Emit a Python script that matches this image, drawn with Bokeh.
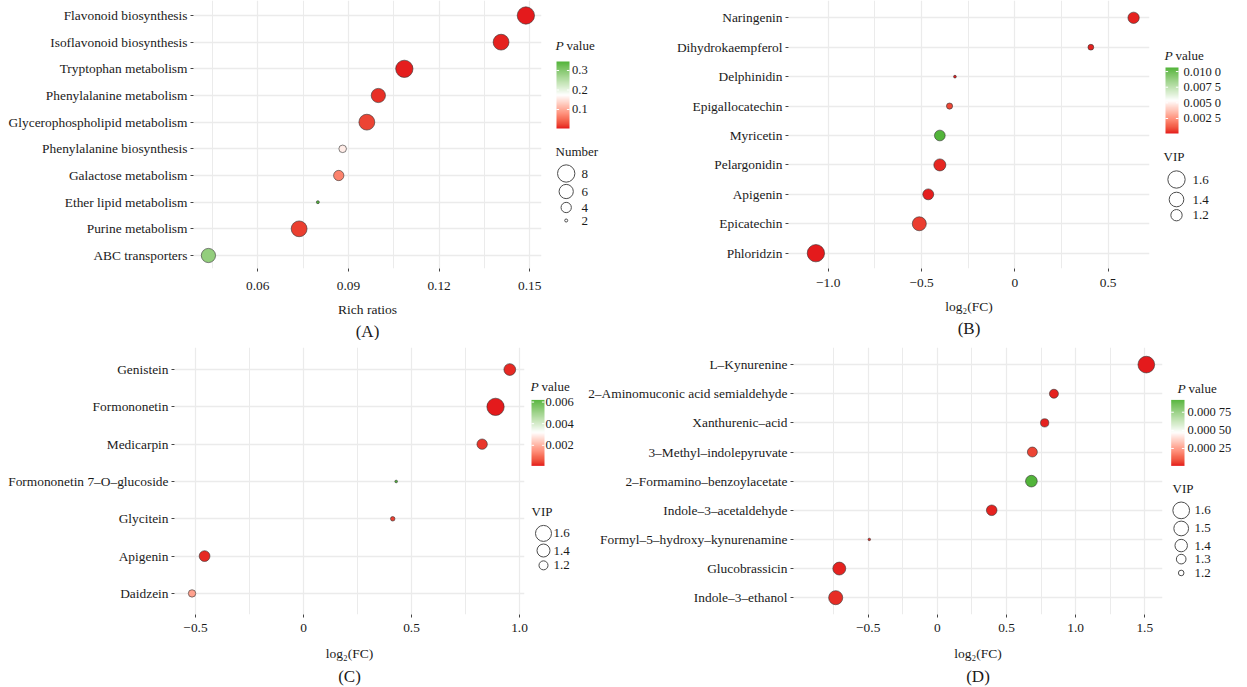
import numpy as np
from bokeh.plotting import figure
from bokeh.models import ColumnDataSource, Range1d, FixedTicker, LinearColorMapper, Title
from bokeh.layouts import row, column
from bokeh.transform import transform
from bokeh.core.properties import value
from bokeh.embed import file_html
from bokeh.resources import INLINE

# ------------------------------------------------------------------ data
# (A) KEGG enrichment
a_pathways = ["Flavonoid biosynthesis", "Isoflavonoid biosynthesis", "Tryptophan metabolism",
              "Phenylalanine metabolism", "Glycerophospholipid metabolism", "Phenylalanine biosynthesis",
              "Galactose metabolism", "Ether lipid metabolism", "Purine metabolism", "ABC transporters"]
a_rich_ratio = [0.1487, 0.1405, 0.1085, 0.0999, 0.0961, 0.0881, 0.0868, 0.0799, 0.0737, 0.0437]
a_number = [8, 7, 8, 6, 7, 3, 4, 2, 7, 6]
a_pvalue = [0.0026, 0.006, 0.004, 0.011, 0.022, 0.157, 0.068, 0.346, 0.020, 0.288]
a_x_ticks = [0.06, 0.09, 0.12, 0.15]
a_x_minor = [0.045, 0.075, 0.105, 0.135]
a_x_labels = ["0.06", "0.09", "0.12", "0.15"]
a_p_ticks = [0.1, 0.2, 0.3]
a_p_labels = ["0.1", "0.2", "0.3"]
a_size_breaks = [8, 6, 4, 2]

# (B) flavonoid metabolites
b_names = ["Naringenin", "Dihydrokaempferol", "Delphinidin", "Epigallocatechin", "Myricetin",
           "Pelargonidin", "Apigenin", "Epicatechin", "Phloridzin"]
b_log2fc = [0.636, 0.407, -0.321, -0.350, -0.402, -0.402, -0.464, -0.512, -1.066]
b_vip = [1.20, 0.98, 0.92, 0.99, 1.17, 1.24, 1.18, 1.36, 1.60]
b_pvalue = [0.0002, 0.0002, 0.0001, 0.00076, 0.01065, 0.00026, 0.00015, 0.00057, 0.0001]
b_x_ticks = [-1.0, -0.5, 0.0, 0.5]
b_x_minor = [-0.75, -0.25, 0.25]
b_x_labels = ["\u22121.0", "\u22120.5", "0", "0.5"]
b_p_ticks = [0.01, 0.0075, 0.005, 0.0025]
b_p_labels = ["0.010 0", "0.007 5", "0.005 0", "0.002 5"]
b_size_breaks = [1.6, 1.4, 1.2]

# (C) isoflavonoid metabolites
c_names = ["Genistein", "Formononetin", "Medicarpin", "Formononetin 7\u2013O\u2013glucoside",
           "Glycitein", "Apigenin", "Daidzein"]
c_log2fc = [0.955, 0.889, 0.827, 0.429, 0.413, -0.458, -0.516]
c_vip = [1.33, 1.70, 1.26, 1.03, 1.06, 1.28, 1.14]
c_pvalue = [0.0002, 0.0001, 0.0003, 0.0062, 0.0004, 0.0002, 0.0017]
c_x_ticks = [-0.5, 0.0, 0.5, 1.0]
c_x_minor = [-0.25, 0.25, 0.75]
c_x_labels = ["\u22120.5", "0", "0.5", "1.0"]
c_p_ticks = [0.006, 0.004, 0.002]
c_p_labels = ["0.006", "0.004", "0.002"]
c_size_breaks = [1.6, 1.4, 1.2]

# (D) tryptophan metabolites
d_names = ["L\u2013Kynurenine", "2\u2013Aminomuconic acid semialdehyde", "Xanthurenic\u2013acid",
           "3\u2013Methyl\u2013indolepyruvate", "2\u2013Formamino\u2013benzoylacetate",
           "Indole\u20133\u2013acetaldehyde", "Formyl\u20135\u2013hydroxy\u2013kynurenamine",
           "Glucobrassicin", "Indole\u20133\u2013ethanol"]
d_log2fc = [1.511, 0.843, 0.776, 0.687, 0.680, 0.393, -0.492, -0.709, -0.735]
d_vip = [1.60, 1.28, 1.26, 1.31, 1.37, 1.33, 1.16, 1.42, 1.47]
d_pvalue = [0.00001, 0.00002, 0.00002, 0.00006, 0.00092, 0.00002, 0.00003, 0.00002, 0.00003]
d_x_ticks = [-0.5, 0.0, 0.5, 1.0, 1.5]
d_x_minor = [-0.75, -0.25, 0.25, 0.75, 1.25]
d_x_labels = ["\u22120.5", "0", "0.5", "1.0", "1.5"]
d_p_ticks = [0.00075, 0.0005, 0.00025]
d_p_labels = ["0.000 75", "0.000 50", "0.000 25"]
d_size_breaks = [1.6, 1.5, 1.4, 1.3, 1.2]

# ------------------------------------------------------------------ style helpers
FONT = "Liberation Serif"
TXT = "#1a1a1a"
GRID = "#EBEBEB"


def _lin(c):
    return c / 12.92 if c <= 0.04045 else ((c + 0.055) / 1.055) ** 2.4


def hex_to_lab(h):
    r, g, b = [_lin(int(h[i:i + 2], 16) / 255) for i in (1, 3, 5)]
    X = (0.4124 * r + 0.3576 * g + 0.1805 * b) / 0.95047
    Y = 0.2126 * r + 0.7152 * g + 0.0722 * b
    Z = (0.0193 * r + 0.1192 * g + 0.9505 * b) / 1.08883
    f = lambda t: t ** (1 / 3) if t > (6 / 29) ** 3 else t / (3 * (6 / 29) ** 2) + 4 / 29
    fx, fy, fz = f(X), f(Y), f(Z)
    return (116 * fy - 16, 500 * (fx - fy), 200 * (fy - fz))


def lab_to_hex(L, a, b):
    fy = (L + 16) / 116
    fx = fy + a / 500
    fz = fy - b / 200
    finv = lambda t: t ** 3 if t > 6 / 29 else 3 * (6 / 29) ** 2 * (t - 4 / 29)
    X, Y, Z = 0.95047 * finv(fx), finv(fy), 1.08883 * finv(fz)
    r = 3.2406 * X - 1.5372 * Y - 0.4986 * Z
    g = -0.9689 * X + 1.8758 * Y + 0.0415 * Z
    bb = 0.0557 * X - 0.2040 * Y + 1.0570 * Z

    def gam(c):
        c = min(max(c, 0.0), 1.0)
        return 12.92 * c if c <= 0.0031308 else 1.055 * c ** (1 / 2.4) - 0.055
    return "#%02x%02x%02x" % tuple(int(round(gam(c) * 255)) for c in (r, g, bb))


def gradient2(low, mid, high, n=256):
    l0, l1, l2 = hex_to_lab(low), hex_to_lab(mid), hex_to_lab(high)
    out = []
    for i in range(n):
        t = i / (n - 1)
        if t <= 0.5:
            u = t / 0.5
            c = [l0[k] + (l1[k] - l0[k]) * u for k in range(3)]
        else:
            u = (t - 0.5) / 0.5
            c = [l1[k] + (l2[k] - l1[k]) * u for k in range(3)]
        out.append(lab_to_hex(*c))
    return out


PALETTE = gradient2("#E41A1C", "#FFFFFF", "#52B43A")


def size_number(n):
    return float(np.sqrt(9 + (n - 2) * 48.5))


def size_vip(k, v0):
    return lambda v: float(np.sqrt(max(4.0, k * (v - v0))))


size_b = size_vip(430, 0.902)
size_c = size_vip(437, 1.014)
size_d = size_vip(620, 1.15)


def make_main(names, xvals, pvals, sizes, mapper, xr, yr, w, h, mb, xticks, xminor, xlabels,
              xlabel, tag, lab_standoff, axis_standoff, title_standoff):
    n = len(names)
    ypos = list(range(n - 1, -1, -1))
    src = ColumnDataSource(dict(x=xvals, y=ypos, p=pvals, s=sizes))
    p = figure(width=w, height=h, x_range=Range1d(*xr), y_range=Range1d(*yr),
               output_backend="svg", toolbar_location=None,
               min_border_left=mb[0], min_border_right=mb[1], min_border_top=mb[2],
               min_border_bottom=mb[3], outline_line_color=None,
               background_fill_color="white", border_fill_color="white")
    p.scatter("x", "y", source=src, size="s", fill_color=transform("p", mapper),
              line_color="#333333", line_width=0.6)
    yt = FixedTicker(ticks=ypos)
    p.yaxis.ticker = yt
    p.ygrid.ticker = yt
    p.yaxis.major_label_overrides = {y: nm for y, nm in zip(ypos, names)}
    xt = FixedTicker(ticks=xticks, minor_ticks=xminor)
    p.xaxis.ticker = xt
    p.xgrid.ticker = xt
    p.xaxis.major_label_overrides = {t: l for t, l in zip(xticks, xlabels)}
    p.xgrid.grid_line_color = GRID
    p.xgrid.grid_line_width = 1.2
    p.xgrid.minor_grid_line_color = GRID
    p.xgrid.minor_grid_line_width = 1.0
    p.ygrid.grid_line_color = GRID
    p.ygrid.grid_line_width = 1.6
    for ax in (p.xaxis[0], p.yaxis[0]):
        ax.axis_line_color = None
        ax.major_tick_line_color = "#444444"
        ax.major_tick_line_width = 1
        ax.major_tick_out = 3
        ax.major_tick_in = 0
        ax.minor_tick_line_color = None
        ax.major_label_text_font = FONT
        ax.major_label_text_font_size = "13.4px"
        ax.major_label_text_color = TXT
    p.yaxis.major_label_standoff = 3
    p.xaxis.major_label_standoff = lab_standoff
    p.xaxis.axis_label = xlabel
    p.xaxis.axis_label_text_font = FONT
    p.xaxis.axis_label_text_font_size = "13.5px"
    p.xaxis.axis_label_text_font_style = "normal"
    p.xaxis.axis_label_text_color = TXT
    p.xaxis.axis_label_standoff = axis_standoff
    p.add_layout(Title(text=tag, align="center", text_font=FONT, text_font_size="17px",
                       text_font_style="normal", text_color=TXT, standoff=title_standoff), "below")
    return p


def make_legend(x0, y0, w, h, mt, mbot, mapper, p_xy, bar, p_ticks, p_labels, lab_x,
                s_title, s_xy, breaks, bsizes, c_x, c_ys, s_lab_x):
    # the frame of this figure is aligned with the frames of the row's main plots
    fh = h - mt - mbot
    lx = lambda wx: wx - x0
    ly = lambda wy: (y0 + mt + fh) - wy
    p = figure(width=w, height=h, x_range=Range1d(0, w), y_range=Range1d(0, fh),
               x_axis_type=None, y_axis_type=None, output_backend="svg",
               toolbar_location=None, min_border_left=0, min_border_right=0,
               min_border_top=mt, min_border_bottom=mbot, outline_line_color=None,
               background_fill_color="white", border_fill_color="white")
    common = dict(text_font=value(FONT), text_baseline="middle", text_align="left", text_color=TXT)
    # colour-bar title with italic P
    p.text(x=[lx(p_xy[0])], y=[ly(p_xy[1])], text=["P"], text_font_size="13.5px",
           text_font_style="italic", **common)
    p.text(x=[lx(p_xy[0]) + 11], y=[ly(p_xy[1])], text=["value"], text_font_size="13px", **common)
    # gradient bar
    bx0, bx1, by0, by1 = bar  # window: left, right, top, bottom
    lo, hi = mapper.low, mapper.high
    img = np.linspace(lo, hi, 256).reshape(256, 1)
    p.image(image=[img], x=lx(bx0), y=ly(by1), dw=bx1 - bx0, dh=by1 - by0, color_mapper=mapper)
    tick_y = [ly(by1 - (t - lo) / (hi - lo) * (by1 - by0)) for t in p_ticks]
    p.segment(x0=[lx(bx0)] * len(tick_y), x1=[lx(bx0) + 2.6] * len(tick_y), y0=tick_y, y1=tick_y,
              line_color="white", line_width=1)
    p.segment(x0=[lx(bx1) - 2.6] * len(tick_y), x1=[lx(bx1)] * len(tick_y), y0=tick_y, y1=tick_y,
              line_color="white", line_width=1)
    p.text(x=[lx(lab_x)] * len(tick_y), y=tick_y, text=p_labels, text_font_size="12.5px", **common)
    # size legend
    p.text(x=[lx(s_xy[0])], y=[ly(s_xy[1])], text=[s_title], text_font_size="13px", **common)
    p.scatter(x=[lx(c_x)] * len(breaks), y=[ly(v) for v in c_ys], size=bsizes,
              fill_color="white", line_color="#4d4d4d", line_width=1)
    p.text(x=[lx(s_lab_x)] * len(breaks), y=[ly(v) for v in c_ys],
           text=[("%g" % b) for b in breaks], text_font_size="13px", **common)
    return p


# ------------------------------------------------------------------ panel A
map_a = LinearColorMapper(palette=PALETTE, low=min(a_pvalue), high=max(a_pvalue))
pa = make_main(a_pathways, a_rich_ratio, a_pvalue, [size_number(n) for n in a_number], map_a,
               (0.03876, 0.15387), (-0.4875, 9.5625), 545, 340, (193, 4, 0, 72),
               a_x_ticks, a_x_minor, a_x_labels, "Rich ratios", "(A)", 9, 9, 0)
la = make_legend(545, 0, 95, 340, 0, 72, map_a, (555, 45), (556, 569, 61, 128), a_p_ticks, a_p_labels,
                 571.5, "Number", (555, 151), a_size_breaks, [size_number(n) for n in a_size_breaks],
                 565.7, [173, 191, 207, 220], 581)

# ------------------------------------------------------------------ panel B
map_b = LinearColorMapper(palette=PALETTE, low=min(b_pvalue), high=max(b_pvalue))
pb = make_main(b_names, b_log2fc, b_pvalue, [size_b(v) for v in b_vip], map_b,
               (-1.2127, 0.7212), (-0.52, 8.588), 512, 340, (148, 3, 0, 72),
               b_x_ticks, b_x_minor, b_x_labels, "log\u2082(FC)", "(B)", 6, 9, 0)
lb = make_legend(1152, 0, 95, 340, 0, 72, map_b, (1164, 55), (1165, 1178, 67, 133), b_p_ticks, b_p_labels,
                 1183, "VIP", (1163, 156), b_size_breaks, [size_b(v) for v in b_size_breaks],
                 1176, [179, 199, 214.7], 1192)

# ------------------------------------------------------------------ panel C
map_c = LinearColorMapper(palette=PALETTE, low=min(c_pvalue), high=max(c_pvalue))
pc = make_main(c_names, c_log2fc, c_pvalue, [size_c(v) for v in c_vip], map_c,
               (-0.5972, 1.0231), (-0.565, 6.591), 530, 347, (174, 6, 7, 70),
               c_x_ticks, c_x_minor, c_x_labels, "log\u2082(FC)", "(C)", 5, 11, 3)
lc = make_legend(530, 340, 55, 347, 7, 70, map_c, (530, 386.7), (531, 544, 400, 466.7), c_p_ticks,
                 c_p_labels, 545, "VIP", (531, 513), c_size_breaks, [size_c(v) for v in c_size_breaks],
                 543, [535, 552.3, 567.3], 553)

# ------------------------------------------------------------------ panel D
map_d = LinearColorMapper(palette=PALETTE, low=min(d_pvalue), high=max(d_pvalue))
pd_ = make_main(d_names, d_log2fc, d_pvalue, [size_d(v) for v in d_vip], map_d,
                (-1.0401, 1.628), (-0.577, 8.587), 580, 347, (208, 3, 7, 70),
                d_x_ticks, d_x_minor, d_x_labels, "log\u2082(FC)", "(D)", 5, 11, 3)
ld = make_legend(1165, 340, 82, 347, 7, 70, map_d, (1177, 388.3), (1170.7, 1184, 400, 466.7), d_p_ticks,
                 d_p_labels, 1187, "VIP", (1172, 490), d_size_breaks, [size_d(v) for v in d_size_breaks],
                 1180.7, [511.7, 530, 547.3, 561, 575], 1194)

layout = column(row(pa, la, pb, lb), row(pc, lc, pd_, ld))

open("out.html", "w").write(file_html(layout, INLINE))
